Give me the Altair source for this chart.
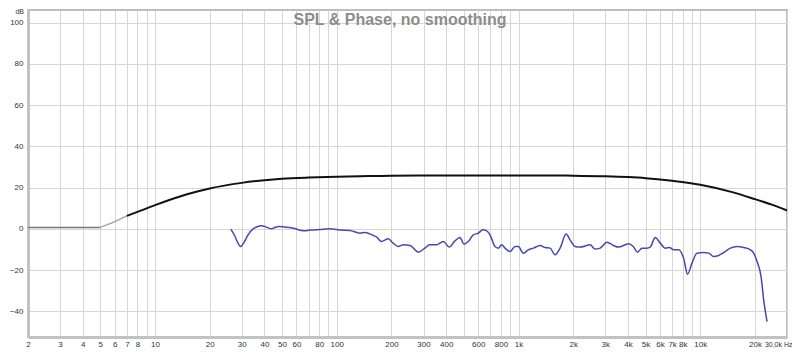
import altair as alt
import pandas as pd

# ---------------- data ----------------
title_text = "SPL & Phase, no smoothing"
y_unit = "dB"

# black SPL curve
spl_freq = [7, 8, 10, 15, 20, 30, 40, 50, 70, 100, 150, 200, 500, 1000, 1500, 2000,
            3000, 4000, 5000, 7000, 10000, 15000, 20000, 25000, 30000]
spl_db = [6.3, 8.2, 11.5, 16.8, 19.6, 22.3, 23.6, 24.3, 24.9, 25.3, 25.6, 25.8, 25.9, 25.9,
          25.9, 25.8, 25.5, 25.1, 24.6, 23.3, 21.4, 17.8, 14.4, 11.6, 8.9]

# grey extension below measured range
ext_flat_freq = [2, 5]
ext_flat_db = [0.7, 0.7]
ext_ramp_freq = [5, 6, 7]
ext_ramp_db = [0.7, 3.5, 6.3]

# blue curve
blue_freq = [26.1, 27.4, 28.6, 29.6, 30.7, 32.5, 34.6, 36.4, 38.5, 41.0,
             43.7, 45.5, 48.1, 51.7, 55.1, 58.7, 63.9, 66.6, 71.0, 77.3,
             84.1, 91.5, 99.6, 104, 118, 134, 143, 159, 166, 176,
             192, 204, 218, 232, 253, 281, 305, 325, 354, 385,
             416, 447, 476, 501, 529, 564, 601, 635, 668, 697,
             742, 774, 808, 843, 898, 957, 998, 1063, 1132, 1207,
             1314, 1400, 1492, 1589, 1693, 1827, 1921, 2048, 2183, 2477,
             2639, 2812, 3062, 3329, 3548, 4027, 4275, 4515, 4774, 5086,
             5303, 5651, 6020, 6415, 6775, 7127, 7595, 8092, 8511, 9000,
             9589, 10428, 11110, 11838, 12614, 13438, 14634, 15935, 17324, 18863,
             19670, 20537, 21600, 22324, 23302]
blue_db = [-0.15, -3.25, -6.94, -8.59, -6.94, -2.91, 0, 0.97, 1.46, 0.83,
           0, 0.63, 1.12, 0.83, 0.63, 0.15, -0.83, -0.97, -0.63, -0.49,
           -0.15, 0, -0.34, -0.63, -0.83, -2.09, -1.80, -3.25, -4.03, -6.17,
           -4.85, -6.94, -8.59, -7.77, -8.11, -11.31, -9.37, -7.77, -7.77, -6.17,
           -8.88, -5.83, -4.22, -7.43, -6.17, -2.91, -2.09, -0.49, -0.97, -2.91,
           -8.59, -9.37, -7.77, -9.37, -11.02, -8.59, -8.59, -11.80, -10.19, -9.37,
           -8.11, -9.08, -9.37, -12.62, -9.37, -2.57, -5.34, -8.59, -8.88, -7.77,
           -9.85, -9.37, -6.46, -8.11, -8.88, -7.28, -8.59, -11.31, -9.37, -9.37,
           -8.88, -4.22, -6.94, -9.37, -9.08, -10.19, -10.19, -14.22, -21.99, -16.65,
           -11.80, -11.50, -11.80, -13.45, -12.96, -11.50, -9.37, -8.59, -9.08, -10.19,
           -11.80, -15.87, -23.16, -34.47, -45.0]

# axis ticks
y_ticks = [-40, -20, 0, 20, 40, 60, 80, 100]
x_grid = [m * d for d in [1, 10, 100, 1000, 10000] for m in range(1, 10) if 2 <= m * d <= 30000]
x_labels = [2, 3, 4, 5, 6, 7, 8, 10, 20, 30, 40, 50, 60, 80, 100, 200, 300, 400, 600, 800,
            1000, 2000, 3000, 4000, 5000, 6000, 7000, 8000, 10000, 20000]
last_label = "30,0k Hz"

# ---------------- chart ----------------
FONT = "Liberation Sans"
x_scale = alt.Scale(type="log", domain=[2, 30000], nice=False)
y_scale = alt.Scale(domain=[-52.5, 106.2], nice=False, zero=False)

label_expr = (
    "datum.value >= 30000 ? '" + last_label + "' : "
    "indexof(" + str(x_labels) + ", datum.value) < 0 ? '' : "
    "datum.value >= 1000 ? (datum.value / 1000) + 'k' : '' + datum.value"
)

is_last = "datum.value >= 30000"
x_axis = alt.Axis(
    values=x_grid, labelExpr=label_expr, title=None, ticks=False,
    grid=True, gridColor="#d6d6d6", gridWidth=1,
    domainColor="#c2c2c2", domainWidth=3,
    labelFont=FONT, labelColor="#333333", labelPadding=3,
    labelFontSize={"condition": {"test": is_last, "value": 7}, "value": 8},
    labelOverlap=False, labelBound=False,
    labelAlign={"condition": {"test": is_last, "value": "right"}, "value": "center"},
    labelOffset={"condition": {"test": is_last, "value": 5}, "value": 0},
)
y_axis = alt.Axis(
    values=y_ticks, title=None, ticks=False,
    grid=True, gridColor="#d6d6d6", gridWidth=1,
    domainColor="#c2c2c2", domainWidth=3,
    labelFont=FONT, labelFontSize=8, labelColor="#333333", labelPadding=5,
)

df_spl = pd.DataFrame({"f": spl_freq, "db": spl_db})
df_flat = pd.DataFrame({"f": ext_flat_freq, "db": ext_flat_db})
df_ramp = pd.DataFrame({"f": ext_ramp_freq, "db": ext_ramp_db})
df_blue = pd.DataFrame({"f": blue_freq, "db": blue_db})

def line(df, color, width, interp="monotone"):
    return alt.Chart(df).mark_line(color=color, strokeWidth=width, interpolate=interp).encode(
        x=alt.X("f:Q", scale=x_scale, axis=x_axis),
        y=alt.Y("db:Q", scale=y_scale, axis=y_axis),
        order="f:Q",
    )

flat = line(df_flat, "#777777", 1.5, "linear")
ramp = line(df_ramp, "#a5a5a5", 1.5)
spl = line(df_spl, "#111111", 2)
blue = line(df_blue, "#4848b2", 1.5)

title = alt.Chart(pd.DataFrame({"t": [title_text]})).mark_text(
    font=FONT, fontSize=16, fontWeight="bold", color="#8c8c8c", align="center", baseline="alphabetic"
).encode(x=alt.value(372), y=alt.value(15), text="t:N")

unit = alt.Chart(pd.DataFrame({"t": [y_unit]})).mark_text(
    font=FONT, fontSize=7, color="#333333", align="right", baseline="alphabetic"
).encode(x=alt.value(-4), y=alt.value(4), text="t:N")

chart = alt.layer(flat, ramp, spl, blue, title, unit).properties(
    width=759, height=327,
    padding={"left": 20, "top": 2, "right": 5, "bottom": 11},
    autosize=alt.AutoSizeParams(type="none"),
    background="white",
).configure_view(stroke="#a8a8a8", strokeWidth=1.5)

chart.save("out.html", embed_options={"renderer": "svg", "actions": False})
